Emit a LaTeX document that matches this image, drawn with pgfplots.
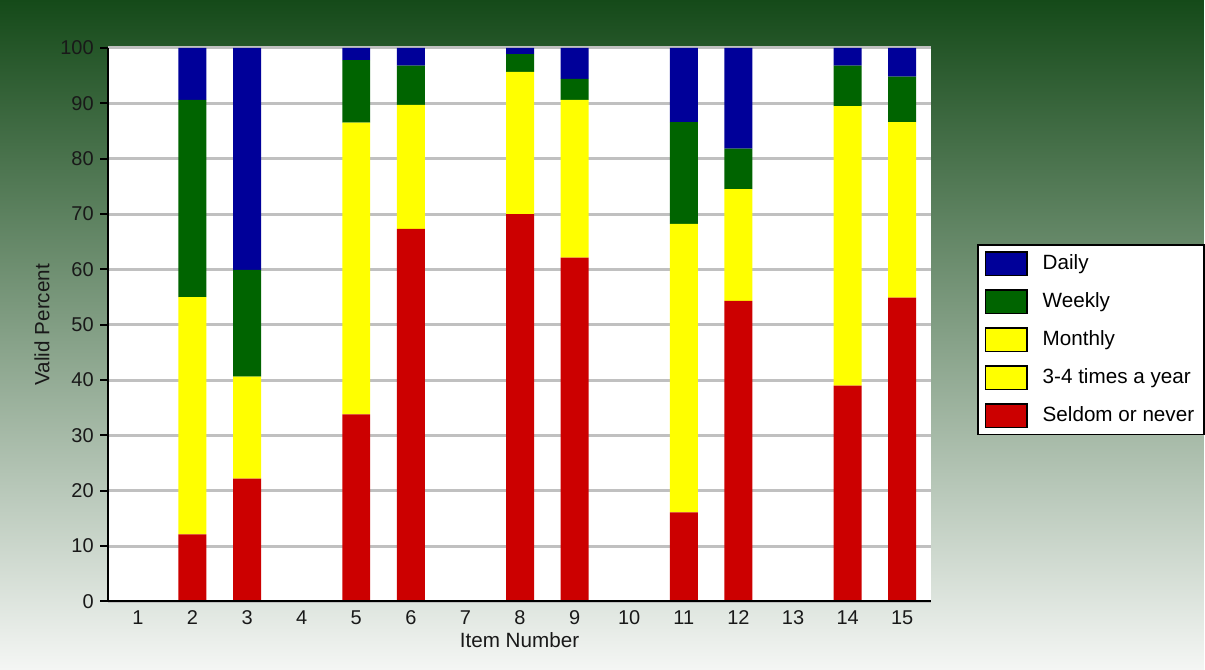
\documentclass[border=0pt]{standalone}
\usepackage{pgfplots}
\pgfplotsset{compat=1.18}
\usepackage{pgfplotstable}
\usetikzlibrary{calc}
\usepackage{fontspec}
\setmainfont{Liberation Sans}

\definecolor{bgtop}{HTML}{154A19}
\definecolor{bgbot}{HTML}{F4F6F4}
\definecolor{cdaily}{HTML}{000099}
\definecolor{cweekly}{HTML}{006400}
\definecolor{cyellow}{HTML}{FFFF00}
\definecolor{cseldom}{HTML}{CC0000}
\definecolor{gridgray}{HTML}{C0C0C0}

% yellow segments: Monthly and 3-4 times a year share one colour, so the
% visible yellow height is kept in one column
\pgfplotstableread{
item seldom yearly monthly weekly daily
1  0    0    0 0    0
2  12.1 42.9 0 35.6 9.4
3  22.2 18.4 0 19.3 40.1
4  0    0    0 0    0
5  33.8 52.7 0 11.3 2.2
6  67.3 22.4 0 7.1  3.2
7  0    0    0 0    0
8  70.0 25.7 0 3.2  1.1
9  62.1 28.5 0 3.8  5.6
10 0    0    0 0    0
11 16.1 52.1 0 18.4 13.4
12 54.3 20.2 0 7.3  18.2
13 0    0    0 0    0
14 39.0 50.5 0 7.3  3.2
15 54.9 31.7 0 8.2  5.2
}\data

\begin{document}
\begin{tikzpicture}
  \shade[top color=bgtop, bottom color=bgbot] (0pt,0pt) rectangle (723pt,402pt);
  \begin{axis}[
      name=ax,
      at={(64.8pt,40.8pt)}, anchor=south west,
      scale only axis,
      width=494.4pt, height=332.4pt,
      ybar stacked,
      bar width=16.8pt,
      xmin=0.451, xmax=15.53,
      ymin=0, ymax=100,
      xtick={1,...,15},
      ytick={0,10,...,100},
      xtick pos=left, ytick pos=left,
      axis line style={draw=none},
      axis background/.style={fill=white},
      ymajorgrids,
      major grid style={draw=gridgray, line width=1.8pt},
      tick align=outside,
      major tick length=5pt,
      tick style={draw=none},
      /pgf/number format/assume math mode=true,
      tick label style={font=\fontsize{12}{14}\selectfont, text=black!90},
      x tick label style={yshift=3pt},
      label style={font=\fontsize{12.4}{14}\selectfont, text=black!90},
      xlabel={Item Number},
      ylabel={Valid Percent},
      xlabel style={at={(axis description cs:0.5,-0.070)}, anchor=center},
      ylabel style={at={(axis description cs:-0.080,0.5)}, anchor=center},
      reverse legend,
      legend cell align=left,
      legend style={
          at={(axis description cs:1.056,0.473)}, anchor=west,
          draw=black, line width=1pt, fill=white,
          font=\fontsize{12.4}{14}\selectfont,
          row sep=8pt,
          inner xsep=4pt, inner ysep=4pt,
          /tikz/every odd column/.append style={column sep=7pt}
      },
      legend image code/.code={
          \draw[#1, draw=black, line width=0.8pt] (0pt,-7pt) rectangle (25pt,7pt);
      },
  ]
    \addplot[fill=cseldom, draw=none] table[x=item, y=seldom] {\data};
    \addplot[fill=cyellow, draw=none] table[x=item, y=yearly] {\data};
    \addplot[fill=cyellow, draw=none] table[x=item, y=monthly] {\data};
    \addplot[fill=cweekly, draw=none] table[x=item, y=weekly] {\data};
    \addplot[fill=cdaily, draw=none] table[x=item, y=daily] {\data};
    \legend{Seldom or never, 3-4 times a year, Monthly, Weekly, Daily}
  \end{axis}
  % left and bottom axis lines, outward y tick marks every 10
  \draw[line width=1.2pt, black] (ax.north west) -- (ax.south west) -- (ax.south east);
  \foreach \i in {0,...,10}
    \draw[line width=1.2pt, black] ($(ax.south west)!\i/10!(ax.north west)$) -- ++(-5pt,0pt);
\end{tikzpicture}
\end{document}
